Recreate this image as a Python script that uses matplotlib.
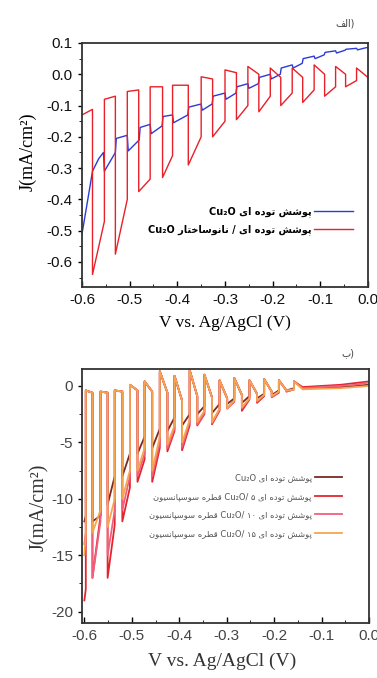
import matplotlib
matplotlib.use("Agg")
import matplotlib.pyplot as plt
from matplotlib.ticker import MultipleLocator

plt.rcParams['axes.unicode_minus'] = False

# ---------------- data: top panel (الف) ----------------
# red: chopped light, read edge by edge
red_on = [-0.578, -0.530, -0.481, -0.431, -0.377, -0.326, -0.276, -0.229, -0.183, -0.137, -0.091, -0.047]
red_off = [-0.553, -0.505, -0.457, -0.410, -0.350, -0.300, -0.252, -0.205, -0.159, -0.113, -0.068, -0.024]
red_dark_start = [-0.13, -0.08, -0.055, -0.04, -0.035, -0.008, 0.014, 0.025, 0.02, 0.02, 0.03, 0.025, 0.02]
red_dark_end = [-0.112, -0.07, -0.05, -0.04, -0.035, -0.015, 0.005, 0.0, -0.01, -0.01, 0.0, 0.0, -0.01]
red_spike = [-0.64, -0.575, -0.375, -0.33, -0.29, -0.20, -0.145, -0.12, -0.10, -0.09, -0.07, -0.04]
red_light_end = [-0.47, -0.40, -0.335, -0.26, -0.20, -0.15, -0.10, -0.07, -0.06, -0.05, -0.04, -0.02]

blue_x = [-0.600, -0.590, -0.578, -0.565, -0.555, -0.553, -0.530, -0.528, -0.505, -0.503, -0.480, -0.478,
          -0.457, -0.455, -0.432, -0.430, -0.410, -0.408, -0.378, -0.376, -0.350, -0.348, -0.327, -0.325,
          -0.300, -0.298, -0.277, -0.275, -0.252, -0.250, -0.230, -0.228, -0.205, -0.203, -0.184, -0.182,
          -0.159, -0.157, -0.138, -0.136, -0.113, -0.111, -0.092, -0.090, -0.068, -0.066, -0.048, -0.046,
          -0.024, -0.022, -0.004, 0.0]
blue_y = [-0.51, -0.42, -0.31, -0.27, -0.25, -0.31, -0.25, -0.205, -0.195, -0.245, -0.21, -0.17,
          -0.16, -0.19, -0.165, -0.135, -0.13, -0.155, -0.13, -0.105, -0.095, -0.115, -0.095, -0.07,
          -0.06, -0.08, -0.06, -0.04, -0.03, -0.045, -0.03, -0.01, 0.0, -0.015, 0.0, 0.02,
          0.03, 0.02, 0.035, 0.05, 0.058, 0.05, 0.062, 0.07, 0.075, 0.068, 0.077, 0.08,
          0.083, 0.078, 0.085, 0.085]

# ---------------- data: bottom panel (ب) ----------------
b_off = [-0.597, -0.566, -0.536, -0.504, -0.473, -0.441, -0.410, -0.378, -0.347, -0.315, -0.284, -0.252, -0.221, -0.190, -0.158]
b_on = [-0.583, -0.551, -0.520, -0.488, -0.457, -0.425, -0.394, -0.362, -0.331, -0.299, -0.268, -0.236, -0.205, -0.174]
b_dark_peak = [-0.4, -0.5, -0.4, 0.1, 0.4, 1.3, 0.9, 1.4, 1.0, 0.5, 0.7, 0.5, 0.6, 0.5, 0.4]
b_dark_end = [-0.6, -0.6, -0.5, -0.4, -0.5, -0.6, -1.3, -0.9, -1.0, -1.1, -0.8, -0.7, -0.5, -0.4]
tail_x = [-0.14, -0.10, -0.06, -0.03, 0.0]

brown_spike = [-12, -12, -10.5, -8, -6, -5.5, -4, -3.5, -2.5, -2.4, -1.6, -1.5, -1.1, -0.8, -0.4]
brown_light = [-11.5, -11.5, -8, -6, -4.5, -3.8, -2.8, -2.5, -1.8, -1.6, -1.1, -0.9, -0.7, -0.4, -0.2]
brown_tail = [-0.2, -0.15, -0.1, 0.0, 0.1]

red2_spike = [-19, -17, -17, -12, -8.5, -8.5, -5.8, -5.7, -3.5, -3.4, -2.0, -2.2, -1.5, -1.0, -0.5]
red2_light = [-18, -11.5, -12.3, -9, -6.5, -5.5, -4, -3.5, -2.5, -2.2, -1.4, -1.2, -0.9, -0.6, -0.3]
red2_tail = [-0.1, 0.0, 0.1, 0.25, 0.4]

pink_spike = [-14, -17, -15, -11, -8, -8, -5.5, -5.4, -3.4, -3.3, -2, -2, -1.4, -1, -0.5]
pink_light = [-13, -12, -11, -8, -6, -5, -3.8, -3.2, -2.4, -2.1, -1.3, -1.1, -0.8, -0.5, -0.3]
pink_tail = [-0.2, -0.1, 0.0, 0.1, 0.3]

orange_spike = [-15, -13, -12.5, -10, -7.5, -7.5, -5.2, -5.0, -3.2, -3.2, -2.0, -1.9, -1.3, -0.9, -0.4]
orange_light = [-13, -11, -10, -7.5, -5.5, -4.5, -3.5, -3.0, -2.2, -2.0, -1.3, -1.1, -0.8, -0.5, -0.3]
orange_tail = [-0.3, -0.25, -0.2, -0.1, 0.0]

# ---------------- Persian text (logical order) ----------------
leg_top = ["پوشش توده ای Cu₂O", "پوشش توده ای / نانوساختار Cu₂O"]
leg_bot = ["پوشش توده ای Cu₂O",
           "پوشش توده ای Cu₂O/ ۵ قطره سوسپانسیون",
           "پوشش توده ای Cu₂O/ ۱۰ قطره سوسپانسیون",
           "پوشش توده ای Cu₂O/ ۱۵ قطره سوسپانسیون"]
label_a = "الف"
label_b = "ب"

xt = [-0.6, -0.5, -0.4, -0.3, -0.2, -0.1, 0.0]
xt_labels = ['-0.6', '-0.5', '-0.4', '-0.3', '-0.2', '-0.1', '0.0']
yt_top = [0.1, 0.0, -0.1, -0.2, -0.3, -0.4, -0.5, -0.6]
yt_top_labels = ['0.1', '0.0', '-0.1', '-0.2', '-0.3', '-0.4', '-0.5', '-0.6']
yt_bot = [0, -5, -10, -15, -20]
yt_bot_labels = ['0', '-5', '-10', '-15', '-20']

# presentation forms: isolated, final, initial, medial
FORMS = {
    'ا': ('\uFE8D', '\uFE8E'), 'د': ('\uFEA9', '\uFEAA'), 'ر': ('\uFEAD', '\uFEAE'),
    'و': ('\uFEED', '\uFEEE'),
    'ب': ('\uFE8F', '\uFE90', '\uFE91', '\uFE92'), 'پ': ('\uFB56', '\uFB57', '\uFB58', '\uFB59'),
    'ت': ('\uFE95', '\uFE96', '\uFE97', '\uFE98'), 'خ': ('\uFEA5', '\uFEA6', '\uFEA7', '\uFEA8'),
    'س': ('\uFEB1', '\uFEB2', '\uFEB3', '\uFEB4'), 'ش': ('\uFEB5', '\uFEB6', '\uFEB7', '\uFEB8'),
    'ط': ('\uFEC1', '\uFEC2', '\uFEC3', '\uFEC4'), 'ف': ('\uFED1', '\uFED2', '\uFED3', '\uFED4'),
    'ق': ('\uFED5', '\uFED6', '\uFED7', '\uFED8'), 'ل': ('\uFEDD', '\uFEDE', '\uFEDF', '\uFEE0'),
    'ن': ('\uFEE5', '\uFEE6', '\uFEE7', '\uFEE8'), 'ه': ('\uFEE9', '\uFEEA', '\uFEEB', '\uFEEC'),
    'ی': ('\uFEEF', '\uFEF0', '\uFEF3', '\uFEF4'),
}


def shape(word):
    out = []
    prev = False
    i = 0
    while i < len(word):
        c = word[i]
        if c not in FORMS:
            out.append(c)
            prev = False
            i += 1
            continue
        if c == 'ل' and i + 1 < len(word) and word[i + 1] == 'ا':
            out.append('\uFEFC' if prev else '\uFEFB')
            prev = False
            i += 2
            continue
        f = FORMS[c]
        nxt = len(f) == 4 and i + 1 < len(word) and word[i + 1] in FORMS
        if prev and nxt:
            g = f[3]
        elif prev:
            g = f[1]
        elif nxt:
            g = f[2]
        else:
            g = f[0]
        out.append(g)
        prev = len(f) == 4
        i += 1
    return ''.join(reversed(out))


def rtl(text):
    # crude bidi: arabic words reversed, latin/digit runs kept
    runs = []
    for tok in text.split(' '):
        is_ar = any(c in FORMS for c in tok)
        if is_ar:
            runs.append(shape(tok))
        elif runs and isinstance(runs[-1], list):
            runs[-1].append(tok)
        else:
            runs.append([tok])
    runs = [' '.join(r) if isinstance(r, list) else r for r in runs]
    return ' '.join(reversed(runs))


def chopped(x0, on, off, d_start, d_end, spike, light, x1):
    xs = [x0]
    ys = [d_start[0]]
    for i in range(len(on)):
        xs += [on[i], on[i], off[i], off[i]]
        ys += [d_end[i], spike[i], light[i], d_start[i + 1]]
    xs.append(x1)
    ys.append(d_end[-1])
    return xs, ys


def chopped_b(spike, light, tail):
    xs = [-0.600, b_off[0], b_off[0]]
    ys = [spike[0], light[0], b_dark_peak[0]]
    for k in range(len(b_on)):
        xs += [b_on[k], b_on[k], b_off[k + 1], b_off[k + 1]]
        ys += [b_dark_end[k], spike[k + 1], light[k + 1], b_dark_peak[k + 1]]
    xs += tail_x
    ys += tail
    return xs, ys


fig = plt.figure(figsize=(3.77, 6.78), dpi=100)
W, H = 377.0, 678.0

def style_axes(ax, col):
    for s in ax.spines.values():
        s.set_linewidth(1.3)
        s.set_color('#333333')
    ax.tick_params(axis='x', direction='in', length=4, width=1, labelsize=11, pad=4, labelcolor=col)
    ax.tick_params(axis='y', direction='out', length=3, width=1, labelsize=11, labelcolor=col)
    ax.tick_params(which='minor', axis='x', direction='in', length=2.5)
    ax.tick_params(which='minor', axis='y', direction='out', length=2)
    for lab in ax.get_xticklabels() + ax.get_yticklabels():
        lab.set_family('Liberation Sans')

# top panel
ax1 = fig.add_axes([82 / W, 1 - 287 / H, 286 / W, 244 / H])
rx, ry = chopped(-0.6, red_on, red_off, red_dark_start, red_dark_end, red_spike, red_light_end, 0.0)
ax1.plot(blue_x, blue_y, color='#2b3bd6', lw=1.0, label=rtl(leg_top[0]))
ax1.plot(rx, ry, color='#e8202a', lw=1.0, label=rtl(leg_top[1]))
ax1.set_xlim(-0.6, 0.0)
ax1.set_ylim(-0.68, 0.1)
ax1.set_xticks(xt)
ax1.set_xticklabels(xt_labels)
ax1.set_yticks(yt_top)
ax1.set_yticklabels(yt_top_labels)
ax1.xaxis.set_minor_locator(MultipleLocator(0.05))
ax1.yaxis.set_minor_locator(MultipleLocator(0.05))
style_axes(ax1, '#111111')
ax1.legend(loc='upper right', bbox_to_anchor=(0.965, 0.35), frameon=False, markerfirst=False,
           handlelength=4.0, labelspacing=0.7, borderpad=0, handletextpad=0.3,
           prop={'family': ['DejaVu Sans'], 'weight': 'bold', 'size': 7})

# bottom panel
ax2 = fig.add_axes([82 / W, 1 - 623 / H, 287 / W, 254 / H])
series = [(brown_spike, brown_light, brown_tail, '#7b2a22'),
          (red2_spike, red2_light, red2_tail, '#e3262e'),
          (pink_spike, pink_light, pink_tail, '#f0607c'),
          (orange_spike, orange_light, orange_tail, '#f5a550')]
for (sp, li, ta, col), lab in zip(series, leg_bot):
    bx, by = chopped_b(sp, li, ta)
    ax2.plot(bx, by, color=col, lw=1.3, label=rtl(lab))
ax2.set_xlim(-0.605, 0.0)
ax2.set_ylim(-21, 1.5)
ax2.set_xticks(xt)
ax2.set_xticklabels(xt_labels)
ax2.set_yticks(yt_bot)
ax2.set_yticklabels(yt_bot_labels)
ax2.xaxis.set_minor_locator(MultipleLocator(0.05))
ax2.yaxis.set_minor_locator(MultipleLocator(2.5))
style_axes(ax2, '#444444')
ax2.legend(loc='upper right', bbox_to_anchor=(0.92, 0.607), frameon=False, markerfirst=False,
           handlelength=3.2, labelspacing=1.16, borderpad=0, handletextpad=0.4,
           labelcolor='#555555', prop={'family': ['DejaVu Sans'], 'size': 6})

# axis labels and panel tags
fig.text(225 / W, 1 - 323 / H, "V vs. Ag/AgCl (V)", family='Liberation Serif', size=12.5,
         ha='center', va='center')
fig.text(28 / W, 1 - 152 / H, "J(mA/cm²)", family='Liberation Serif', size=13,
         ha='center', va='center', rotation=90)
fig.text(222 / W, 1 - 661 / H, "V vs. Ag/AgCl (V)", family='Liberation Serif', size=14,
         ha='center', va='center', color='#333333')
fig.text(39 / W, 1 - 507 / H, "J(mA/cm²)", family='Liberation Serif', size=14.5,
         ha='center', va='center', rotation=90, color='#333333')
fig.text(345 / W, 1 - 23 / H, shape(label_a) + ")", family=['DejaVu Sans'], size=7,
         ha='center', va='center', color='#444444')
fig.text(348 / W, 1 - 353 / H, shape(label_b) + ")", family=['DejaVu Sans'], size=7,
         ha='center', va='center', color='#444444')

fig.savefig('out.png', dpi=100)
